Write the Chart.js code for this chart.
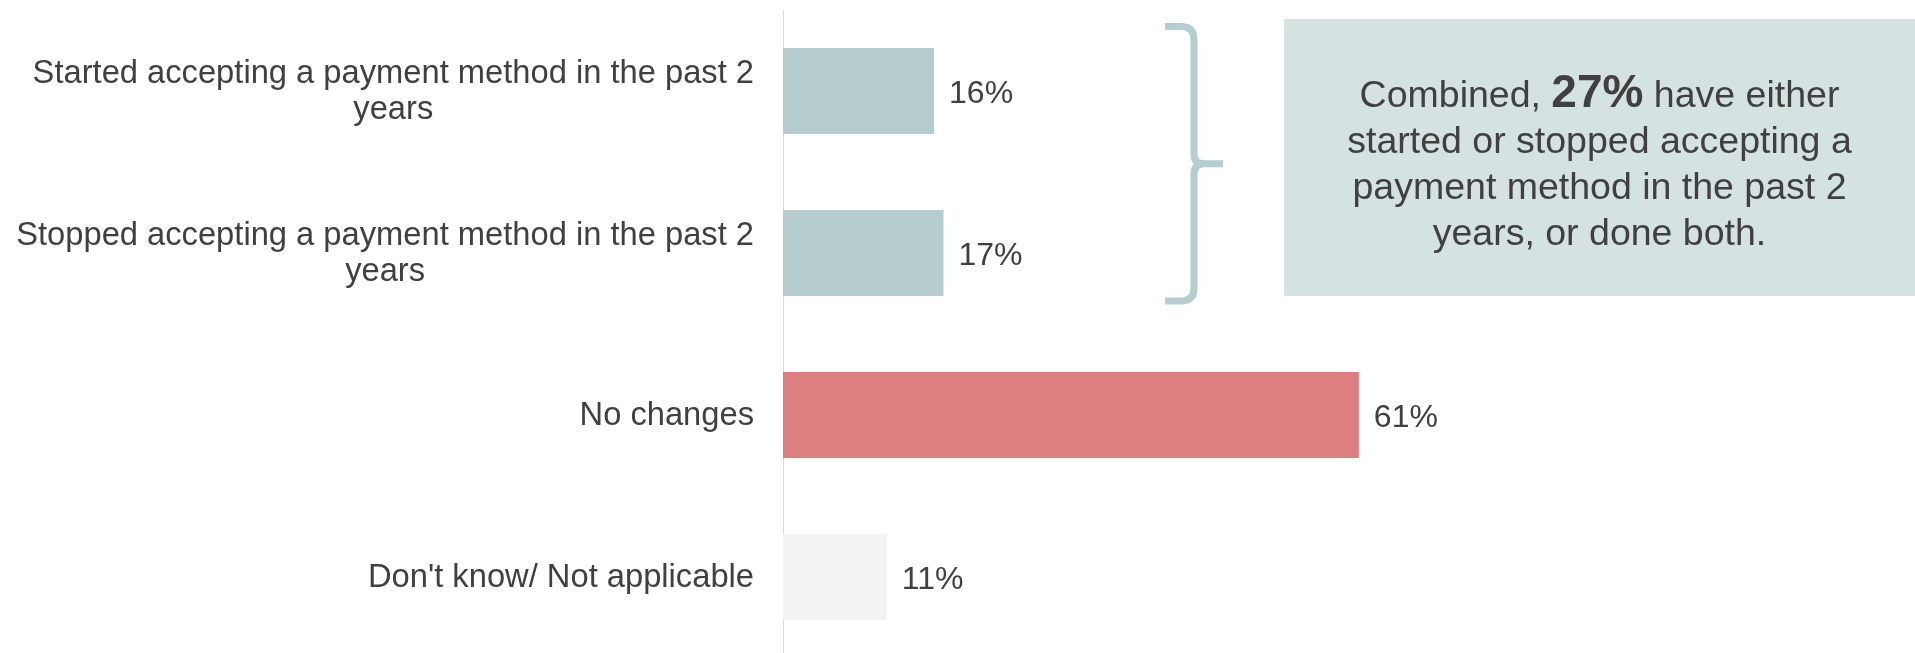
<!DOCTYPE html>
<html>
<head>
<meta charset="utf-8">
<script src="https://cdn.jsdelivr.net/npm/chart.js@4.4.1/dist/chart.umd.min.js"></script>
<style>
    html, body { margin: 0; padding: 0; background: #ffffff; overflow: hidden; }
    #wrap { width: 1915px; height: 653px; overflow: hidden; }
</style>
</head>
<body>
<div id="wrap">
    <canvas id="changesChart" width="1915" height="658"></canvas>
</div>
<script>
// Survey answers, one entry per bar (multi-line labels as arrays)
const categories = [
    ['Started accepting a payment method in the past 2', 'years'],
    ['Stopped accepting a payment method in the past 2', 'years'],
    'No changes',
    "Don't know/ Not applicable"
];
const shares = [16, 17, 61, 11];
const barColors = ['#b5cdce', '#b5cdce', '#de7f7f', '#f2f2f2'];

// Callout text next to the brace
const calloutLines = [
    ['Combined, ', '27%', ' have either'],
    ['started or stopped accepting a'],
    ['payment method in the past 2'],
    ['years, or done both.']
];

const FONT = '"Liberation Sans", Arial, sans-serif';
const TEXT_COLOR = '#404040';

// Category labels: block right-aligned against the axis, lines centred within it
const categoryLabels = {
    id: 'categoryLabels',
    afterDraw(chart) {
        const ctx = chart.ctx;
        const y = chart.scales.y;
        const right = chart.chartArea.left - 29;
        const lineHeight = 35.5;
        ctx.save();
        ctx.font = '32.7px ' + FONT;
        ctx.fillStyle = TEXT_COLOR;
        ctx.textBaseline = 'middle';
        ctx.textAlign = 'center';
        categories.forEach(function(label, i) {
            const lines = Array.isArray(label) ? label : [label];
            const widest = Math.max.apply(null, lines.map(function(l) { return ctx.measureText(l).width; }));
            const cx = right - widest / 2;
            const cy = y.getPixelForValue(i);
            const first = cy - (lines.length - 1) * lineHeight / 2;
            lines.forEach(function(l, k) {
                ctx.fillText(l, cx, first + k * lineHeight + 1);
            });
        });
        ctx.restore();
    }
};

// Value labels at the end of each bar
const valueLabels = {
    id: 'valueLabels',
    afterDatasetsDraw(chart) {
        const ctx = chart.ctx;
        const meta = chart.getDatasetMeta(0);
        ctx.save();
        ctx.font = '32px ' + FONT;
        ctx.fillStyle = TEXT_COLOR;
        ctx.textAlign = 'left';
        ctx.textBaseline = 'middle';
        meta.data.forEach(function(bar, i) {
            ctx.fillText(shares[i] + '%', bar.x + 15, bar.y + 3);
        });
        ctx.restore();
    }
};

// Brace around the first two bars plus the shaded callout box
const callout = {
    id: 'callout',
    afterDraw(chart) {
        const ctx = chart.ctx;
        const y = chart.scales.y;
        const top = y.getPixelForValue(0) - 64.5;
        const bottom = y.getPixelForValue(1) + 48;
        const mid = (top + bottom) / 2;

        ctx.save();
        // brace
        ctx.strokeStyle = '#b5cdce';
        ctx.lineWidth = 7;
        ctx.lineCap = 'butt';
        ctx.lineJoin = 'round';
        ctx.beginPath();
        ctx.moveTo(1165, top);
        ctx.lineTo(1181, top);
        ctx.quadraticCurveTo(1194, top, 1194, top + 13);
        ctx.lineTo(1194, mid - 10);
        ctx.quadraticCurveTo(1194, mid, 1204, mid);
        ctx.lineTo(1223, mid);
        ctx.moveTo(1204, mid);
        ctx.quadraticCurveTo(1194, mid, 1194, mid + 10);
        ctx.lineTo(1194, bottom - 13);
        ctx.quadraticCurveTo(1194, bottom, 1181, bottom);
        ctx.lineTo(1165, bottom);
        ctx.stroke();

        // box
        const boxLeft = 1284, boxRight = 1915;
        ctx.fillStyle = '#d4e2e2';
        ctx.fillRect(boxLeft, 19, boxRight - boxLeft, 277);

        // text, centred, with the bold figure on the first line
        const cx = (boxLeft + boxRight) / 2;
        const regular = '37.5px ' + FONT;
        const bold = 'bold 46px ' + FONT;
        ctx.fillStyle = TEXT_COLOR;
        ctx.textBaseline = 'alphabetic';
        ctx.textAlign = 'left';
        calloutLines.forEach(function(parts, i) {
            const fonts = parts.map(function(p, j) { return (parts.length === 3 && j === 1) ? bold : regular; });
            let total = 0;
            const widths = parts.map(function(p, j) {
                ctx.font = fonts[j];
                const w = ctx.measureText(p).width;
                total += w;
                return w;
            });
            let x = cx - total / 2;
            const baseline = 107 + i * 46;
            parts.forEach(function(p, j) {
                ctx.font = fonts[j];
                ctx.fillText(p, x, baseline);
                x += widths[j];
            });
        });
        ctx.restore();
    }
};

new Chart(document.getElementById('changesChart'), {
    type: 'bar',
    data: {
        labels: categories,
        datasets: [{
            data: shares,
            backgroundColor: barColors,
            borderWidth: 0,
            barPercentage: 0.53,
            categoryPercentage: 1
        }]
    },
    options: {
        indexAxis: 'y',
        responsive: false,
        animation: false,
        layout: {
            padding: { top: 10, right: 188, bottom: 0, left: 0 }
        },
        plugins: {
            legend: { display: false },
            tooltip: { enabled: false }
        },
        scales: {
            x: {
                display: false,
                min: 0,
                max: 100
            },
            y: {
                grid: { display: false, drawTicks: false },
                border: { display: true, color: '#d9d9d9', width: 1 },
                ticks: { display: false },
                afterFit(scale) {
                    scale.width = 783;
                    scale.paddingTop = 0;
                    scale.paddingBottom = 0;
                }
            }
        }
    },
    plugins: [categoryLabels, valueLabels, callout]
});
</script>
</body>
</html>
